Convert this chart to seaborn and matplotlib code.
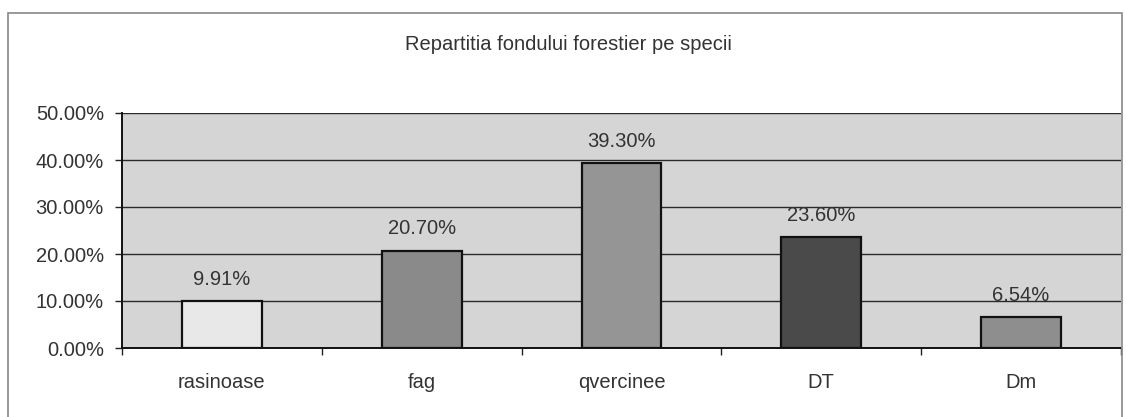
import matplotlib
matplotlib.use("Agg")
import matplotlib.pyplot as plt
import seaborn as sns
import numpy as np
from matplotlib.patches import Rectangle
from matplotlib.ticker import FixedLocator, PercentFormatter

categories = ["rasinoase", "fag", "qvercinee", "DT", "Dm"]
values = [9.91, 20.70, 39.30, 23.60, 6.54]
value_labels = ["9.91%", "20.70%", "39.30%", "23.60%", "6.54%"]
bar_colors = ["#e8e8e8", "#8a8a8a", "#959595", "#4a4a4a", "#8e8e8e"]
title = "Repartitia fondului forestier pe specii"
y_ticks = [0, 10, 20, 30, 40, 50]

sns.set_theme(style="white")
plt.rcParams["font.family"] = ["Liberation Sans", "DejaVu Sans"]

FS = 14.5

fig = plt.figure(figsize=(11.26, 4.17), dpi=100)
fig.patch.set_facecolor("white")
ax = fig.add_axes([122/1126, (417-348)/417, (1121-122)/1126, (348-113)/417])
ax.set_facecolor("#d5d5d5")

sns.barplot(x=categories, y=values, hue=categories, palette=bar_colors,
            width=0.4, edgecolor="#111111", linewidth=1.6, legend=False,
            ax=ax, zorder=3)

for c, lab in zip(ax.containers, value_labels):
    ax.bar_label(c, labels=[lab], padding=9, fontsize=FS, color="#333333")

ax.set_ylim(0, 50)
ax.set_xlim(-0.5, len(categories) - 0.5)
ax.yaxis.set_major_locator(FixedLocator(y_ticks))
ax.yaxis.set_major_formatter(PercentFormatter(decimals=2))
ax.grid(axis="y", color="#2a2a2a", linewidth=1.0, zorder=1)
ax.set_axisbelow(True)

ax.tick_params(axis="y", which="major", direction="out", length=5, width=1.0,
               color="#222222", labelsize=FS, labelcolor="#333333", pad=8, left=True)
ax.tick_params(axis="x", which="major", length=0, labelsize=FS,
               labelcolor="#333333", pad=18)
ax.xaxis.set_minor_locator(FixedLocator(np.arange(-0.5, len(categories), 1.0)))
ax.tick_params(axis="x", which="minor", direction="out", length=5, width=1.0,
               color="#222222", bottom=True)
ax.set_xlabel("")
ax.set_ylabel("")

for s in ["top", "right"]:
    ax.spines[s].set_visible(False)
for s in ["left", "bottom"]:
    ax.spines[s].set_visible(True)
    ax.spines[s].set_color("#111111")
    ax.spines[s].set_linewidth(1.4)

fig.text(568/1126, 1 - 45/417, title, ha="center", va="center",
         fontsize=FS, color="#333333")

border = Rectangle((8/1126, -0.05), (1122-8)/1126, 1.05 - 13/417,
                   transform=fig.transFigure, fill=False,
                   edgecolor="#888888", linewidth=1.2)
fig.patches.append(border)

fig.savefig("out.png", dpi=100)
